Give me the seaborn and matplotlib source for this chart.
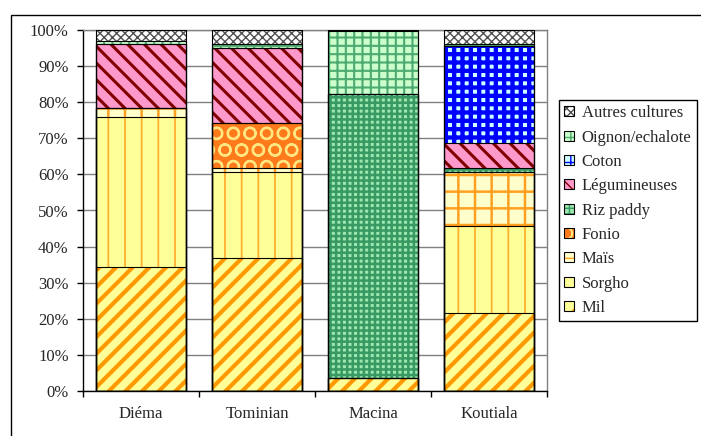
import matplotlib
matplotlib.use("Agg")
import matplotlib.pyplot as plt
import matplotlib as mpl
from matplotlib.patches import Patch, Rectangle
from matplotlib.legend_handler import HandlerTuple
import numpy as np
import pandas as pd
import seaborn as sns

# ---- data (percent of cultivated area) ----
zones = ["Diéma", "Tominian", "Macina", "Koutiala"]
cultures = ["Mil", "Sorgho", "Maïs", "Fonio", "Riz paddy", "Légumineuses",
            "Coton", "Oignon/echalote", "Autres cultures"]
mil = [34.4, 36.9, 3.7, 21.7]
sorgho = [41.6, 23.7, 0.0, 24.0]
mais = [2.3, 1.1, 0.0, 15.0]
fonio = [0.0, 12.5, 0.0, 0.0]
riz = [0.0, 0.0, 78.6, 1.2]
legumineuses = [17.7, 20.9, 0.0, 6.7]
coton = [0.0, 0.0, 0.0, 27.0]
oignon = [0.9, 0.9, 17.4, 0.4]
autres = [3.1, 4.0, 0.3, 4.0]
y_ticklabels = ["0%", "10%", "20%", "30%", "40%", "50%", "60%", "70%", "80%", "90%", "100%"]

series = [mil, sorgho, mais, fonio, riz, legumineuses, coton, oignon, autres]

# styles: facecolor, hatch, hatch colour, hatch linewidth
styles = {
    "Mil": ("#FFFF99", "//", "#FF9900", 3.0),
    "Sorgho": ("#FFFF99", "|", "#FFB030", 1.3),
    "Maïs": ("#FFFFCC", "+", "#FFA020", 1.8),
    "Fonio": ("#FF7A1A", "O", "#FFE680", 1.5),
    "Riz paddy": ("#9DE8B0", "+++", "#389A62", 1.8),
    "Légumineuses": ("#FF99CC", "\\\\", "#800000", 2.2),
    "Coton": ("#CCFFFF", "++", "#0000FF", 3.1),
    "Oignon/echalote": ("#CCFFCC", "++", "#4DAA70", 1.5),
    "Autres cultures": ("#FFFFFF", "xxxx", "#505050", 1.0),
}

sns.set_style("white")
plt.rcParams["font.family"] = ["Liberation Serif", "DejaVu Serif"]
plt.rcParams["font.size"] = 12

fig = plt.figure(figsize=(7.01, 4.36), dpi=100)
ax = fig.add_axes([83 / 701, 45 / 436, 464 / 701, 361 / 436])

cum = np.cumsum(np.array(series), axis=0)
df = pd.DataFrame({"zone": zones})
bar_w = 0.77

# draw from top of stack downwards so lower segments overlap higher ones
for i in range(len(cultures) - 1, -1, -1):
    name = cultures[i]
    fc, hatch, hc, hlw = styles[name]
    df["val"] = cum[i]
    with mpl.rc_context({"hatch.linewidth": hlw}):
        sns.barplot(data=df, x="zone", y="val", color=fc, saturation=1,
                    width=bar_w, errorbar=None, ax=ax, hatch=hatch,
                    edgecolor=hc, linewidth=0, zorder=2)

# segment outlines
for i in range(len(cultures)):
    df["val"] = cum[i]
    sns.barplot(data=df, x="zone", y="val", fill=False, width=bar_w,
                errorbar=None, ax=ax, edgecolor="black", linewidth=0.8,
                zorder=3)

ax.set_xlim(-0.5, 3.5)
ax.set_ylim(0, 100)
ax.set_yticks(np.arange(0, 101, 10))
ax.set_yticklabels(y_ticklabels)
ax.set_xlabel("")
ax.set_ylabel("")
ax.yaxis.grid(True, color="#808080", linewidth=1.0, zorder=0)
ax.set_axisbelow(True)
ax.tick_params(axis="y", length=4.3, width=1, color="black", pad=6, direction="out", left=True)
ax.tick_params(axis="x", which="major", length=0, pad=11)
ax.set_xticks(np.arange(-0.5, 3.6, 1), minor=True)
ax.tick_params(axis="x", which="minor", length=4, width=1, color="black", direction="out", bottom=True)
for s in ["left", "bottom"]:
    ax.spines[s].set_color("black")
    ax.spines[s].set_linewidth(1.0)
for s in ["top", "right"]:
    ax.spines[s].set_visible(True)
    ax.spines[s].set_color("#808080")
    ax.spines[s].set_linewidth(1.0)

# legend (reverse order, like the reference)
handles = []
labels = []
for name in cultures[::-1]:
    fc, hatch, hc, hlw = styles[name]
    h1 = Patch(facecolor=fc, hatch=hatch, edgecolor=hc, linewidth=0)
    h2 = Patch(facecolor="none", edgecolor="black", linewidth=0.8)
    handles.append((h1, h2))
    labels.append(name)
leg = fig.legend(handles, labels, loc="upper left",
                 bbox_to_anchor=(559 / 701, 1 - 100 / 436),
                 bbox_transform=fig.transFigure,
                 handler_map={tuple: HandlerTuple(ndivide=1, pad=0)},
                 frameon=True, fancybox=False, framealpha=1, edgecolor="black",
                 handlelength=0.55, handleheight=0.55, handletextpad=0.48,
                 labelspacing=0.5, borderpad=0.32, borderaxespad=0,
                 fontsize=12)
leg.get_frame().set_linewidth(1.0)

# outer chart frame
fig.add_artist(Rectangle((11 / 701, -0.05), 1.1, 1 - 15 / 436 + 0.05,
                         transform=fig.transFigure, fill=False,
                         edgecolor="black", linewidth=1.0, clip_on=False))

fig.savefig("out.png", dpi=100)
